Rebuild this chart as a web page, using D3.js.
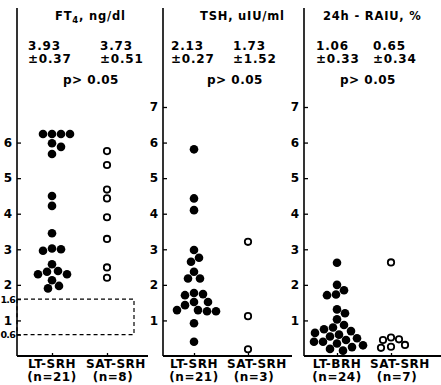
<!DOCTYPE html>
<html>
<head>
<meta charset="utf-8">
<script src="https://cdn.jsdelivr.net/npm/d3@7"></script>
<style>
body { margin: 0; background: #fff; }
text { font-family: "DejaVu Sans", sans-serif; font-weight: bold; fill: #000; }
</style>
</head>
<body>
<svg id="chart" width="441" height="385"></svg>
<script>
// values (one dot per patient)
var ft4Lt = [6.24, 6.24, 6.24, 6.24, 5.98, 5.88, 5.68, 4.5, 4.22, 3.45, 3.02, 3.0, 2.96, 2.58, 2.39, 2.37, 2.3, 2.3, 2.13, 1.97, 1.9];
var ft4Sat = [5.76, 5.37, 4.68, 4.43, 3.9, 3.29, 2.49, 2.2];
var tshLt = [5.81, 4.43, 4.1, 2.98, 2.76, 2.65, 2.37, 2.18, 2.18, 1.77, 1.74, 1.71, 1.52, 1.52, 1.43, 1.29, 1.29, 1.26, 1.26, 0.92, 0.4];
var tshSat = [3.21, 1.12, 0.19];
var raiuLt = [2.62, 2.0, 1.85, 1.73, 1.71, 1.31, 1.2, 1.03, 0.87, 0.8, 0.75, 0.7, 0.65, 0.6, 0.55, 0.5, 0.45, 0.4, 0.4, 0.35, 0.3, 0.25, 0.2, 0.15];
var raiuSat = [2.63, 0.52, 0.47, 0.45, 0.31, 0.26, 0.23];

var groupsA = ["LT-SRH", "SAT-SRH"];
var groupsB = ["LT-BRH", "SAT-SRH"];
var nFt4 = ["(n=21)", "(n=8)"];
var nTsh = ["(n=21)", "(n=3)"];
var nRaiu = ["(n=24)", "(n=7)"];

var ft4Means = ["3.93", "3.73"], ft4Sems = ["\u00b10.37", "\u00b10.51"];
var tshMeans = ["2.13", "1.73"], tshSems = ["\u00b10.27", "\u00b11.52"];
var raiuMeans = ["1.06", "0.65"], raiuSems = ["\u00b10.33", "\u00b10.34"];
var pText = "p> 0.05";

var ticksFt4 = [0.6, 1, 1.6, 2, 3, 4, 5, 6];
var ticksOther = [1, 2, 3, 4, 5, 6, 7];
var normalFt4 = [0.6, 1.6];

var svg = d3.select("#chart");

var y = d3.scaleLinear()
    .domain([0, 7])
    .range([356, 107]);

var panels = [
    { title: ["FT", "4", ", ng/dl"], groups: groupsA, ns: nFt4, data: [ft4Lt, ft4Sat],
      means: ft4Means, sems: ft4Sems, ticks: ticksFt4,
      axisX: 17, xEnd: 148, cols: [52, 107], titleX: 55, statX: [28, 100], pX: 63 },
    { title: ["TSH, uIU/ml"], groups: groupsA, ns: nTsh, data: [tshLt, tshSat],
      means: tshMeans, sems: tshSems, ticks: ticksOther,
      axisX: 163, xEnd: 292, cols: [194, 248], titleX: 200, statX: [171, 233], pX: 207 },
    { title: ["24h - RAIU, %"], groups: groupsB, ns: nRaiu, data: [raiuLt, raiuSat],
      means: raiuMeans, sems: raiuSems, ticks: ticksOther,
      axisX: 304, xEnd: 441, cols: [337, 391], titleX: 323, statX: [316, 373], pX: 340 }
];

// simple beeswarm: push each dot sideways until it no longer hits the ones placed before
function dodge(vals, sep) {
    var placed = [];
    vals.forEach(function(v) {
        var cy = y(v);
        for (var k = 0; k < 200; k++) {
            var o = (k % 2 ? 1 : -1) * Math.ceil(k / 2);
            var ok = placed.every(function(p) {
                return (p.dx - o) * (p.dx - o) + (p.cy - cy) * (p.cy - cy) >= sep * sep;
            });
            if (ok) { placed.push({ v: v, dx: o, cy: cy }); break; }
        }
    });
    return placed;
}

panels.forEach(function(p) {
    var g = svg.append("g");

    var x = d3.scalePoint()
        .domain(p.groups)
        .range(p.cols);

    // y axis, ticks pointing into the plot
    var yAxis = g.append("g")
        .attr("transform", "translate(" + p.axisX + ",0)")
        .call(d3.axisLeft(y)
            .tickValues(p.ticks)
            .tickSizeInner(-4)
            .tickSizeOuter(0)
            .tickPadding(5)
            .tickFormat(function(d) { return String(d); }));
    yAxis.select(".domain").remove();
    yAxis.selectAll("line").attr("stroke", "#000").attr("stroke-width", 1.3);
    yAxis.selectAll("text")
        .attr("font-size", 12)
        .attr("font-family", "DejaVu Sans, sans-serif")
        .attr("font-weight", "bold");
    // the 0.6 / 1.6 labels are squeezed against the left edge
    yAxis.selectAll("text")
        .filter(function(d) { return d % 1 != 0; })
        .attr("x", -2)
        .attr("font-size", 9.5)
        .attr("letter-spacing", -0.8);

    g.append("line")
        .attr("x1", p.axisX).attr("x2", p.axisX)
        .attr("y1", 8).attr("y2", y(0))
        .attr("stroke", "#000").attr("stroke-width", 1.6);

    // x axis
    var xAxis = g.append("g")
        .attr("transform", "translate(0," + y(0) + ")")
        .call(d3.axisBottom(x).tickSizeInner(-3).tickSizeOuter(0).tickFormat(""));
    xAxis.select(".domain").remove();
    xAxis.selectAll("line").attr("stroke", "#000").attr("stroke-width", 1.3);

    g.append("line")
        .attr("x1", p.axisX).attr("x2", p.xEnd)
        .attr("y1", y(0)).attr("y2", y(0))
        .attr("stroke", "#000").attr("stroke-width", 2);

    // group names under the axis
    p.groups.forEach(function(name, i) {
        var shift = i == 0 ? 0 : 9;
        g.append("text")
            .attr("x", x(name) + shift)
            .attr("y", 368)
            .attr("text-anchor", "middle")
            .attr("font-size", 12)
            .attr("letter-spacing", 0.5)
            .text(name);
        g.append("text")
            .attr("x", x(name) + (i == 0 ? 0 : 6))
            .attr("y", 381)
            .attr("text-anchor", "middle")
            .attr("font-size", 12)
            .attr("letter-spacing", 0.5)
            .text(p.ns[i]);
    });

    // title
    var t = g.append("text")
        .attr("x", p.titleX)
        .attr("y", 20)
        .attr("font-size", 11.5)
        .attr("letter-spacing", 0.8);
    t.append("tspan").text(p.title[0]);
    if (p.title.length > 1) {
        t.append("tspan").attr("dy", 3).attr("font-size", 8.5).text(p.title[1]);
        t.append("tspan").attr("dy", -3).text(p.title[2]);
    }

    // mean +/- sem and p value
    [0, 1].forEach(function(i) {
        g.append("text").attr("x", p.statX[i]).attr("y", 50)
            .attr("font-size", 12).attr("letter-spacing", 0.8).text(p.means[i]);
        g.append("text").attr("x", p.statX[i]).attr("y", 63)
            .attr("font-size", 12).attr("letter-spacing", 0.8).text(p.sems[i]);
    });
    g.append("text").attr("x", p.pX).attr("y", 84)
        .attr("font-size", 12).attr("letter-spacing", 0.5).text(pText);

    // dots: filled for the first group, open for the second
    var lt = dodge(p.data[0], 8.8);
    g.selectAll("circle.lt")
        .data(lt)
        .enter()
        .append("circle")
        .attr("class", "lt")
        .attr("cx", function(d) { return x(p.groups[0]) + d.dx; })
        .attr("cy", function(d) { return d.cy; })
        .attr("r", 4.3)
        .attr("fill", "#000");

    var sat = dodge(p.data[1], 8);
    g.selectAll("circle.sat")
        .data(sat)
        .enter()
        .append("circle")
        .attr("class", "sat")
        .attr("cx", function(d) { return x(p.groups[1]) + d.dx; })
        .attr("cy", function(d) { return d.cy; })
        .attr("r", 3.2)
        .attr("fill", "#fff")
        .attr("stroke", "#000")
        .attr("stroke-width", 1.8);
});

// normal range box on the FT4 panel
svg.append("rect")
    .attr("x", panels[0].axisX)
    .attr("y", y(normalFt4[1]))
    .attr("width", 134 - panels[0].axisX)
    .attr("height", y(normalFt4[0]) - y(normalFt4[1]))
    .attr("fill", "none")
    .attr("stroke", "#000")
    .attr("stroke-width", 1.2)
    .attr("stroke-dasharray", "4,3");
</script>
</body>
</html>
